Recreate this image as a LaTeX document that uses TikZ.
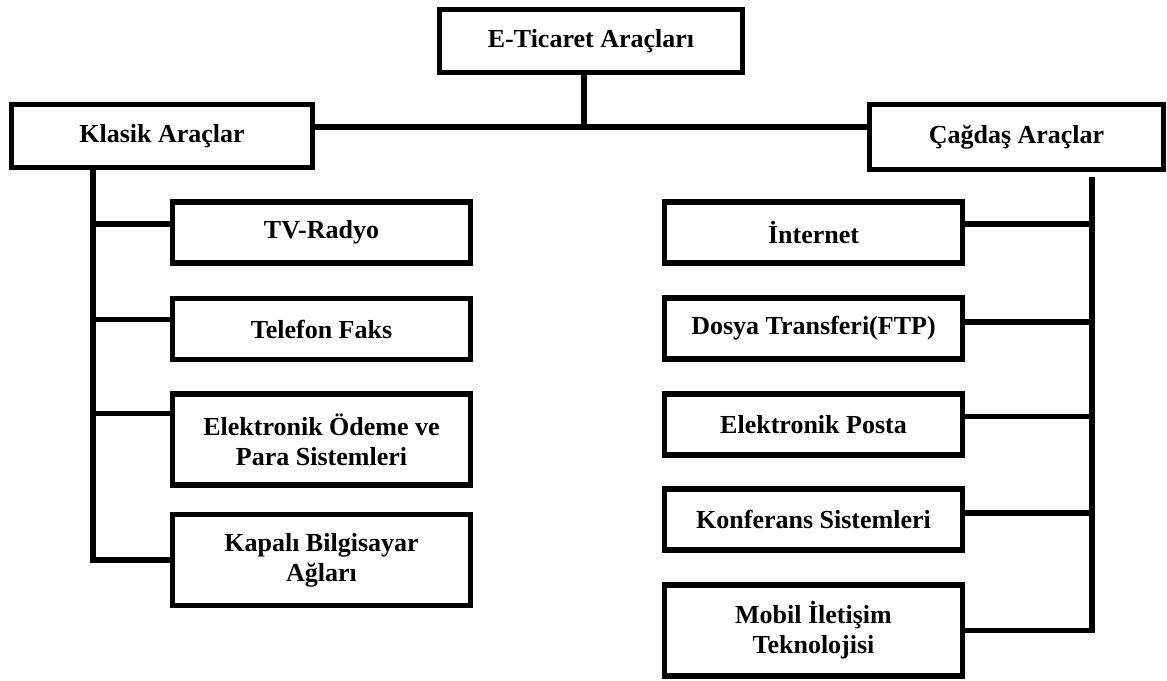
\documentclass[tikz,border=0pt]{standalone}
\usepackage{fontspec}
\setmainfont{Liberation Serif}
\usetikzlibrary{calc}
\begin{document}
\begin{tikzpicture}[x=0.75pt, y=-0.75pt, line width=4pt,
    main/.style = {draw, rectangle, inner sep=0pt, align=center, font=\fontsize{19.5}{22.5}\selectfont\bfseries, minimum width=223.5pt, minimum height=45.75pt},
    tall/.style = {main, minimum height=68.25pt}]
    \useasboundingbox (0,0) rectangle (1167,681);
    \node[main, minimum width=227.25pt, minimum height=47.25pt] (0) at (591,41) {E-Ticaret Araçları};
    \node[main, minimum width=225.75pt, minimum height=47.25pt] (1) at (162,136) {Klasik Araçlar};
    \node[main, minimum width=220.5pt, minimum height=48.75pt] (2) at (1016.5,137) {Çağdaş Araçlar};
    % klasik
    \node[main] (3) at (321.5,232.5) {TV-Radyo};
    \node[main] (4) at (321.5,329) {Telefon Faks};
    \node[tall] (5) at (321.5,439.5) {Elektronik Ödeme ve\\Para Sistemleri};
    \node[tall] (6) at (321.5,560) {Kapalı Bilgisayar\\Ağları};
    % çağdaş
    \node[main] (7) at (813.5,232.5) {İnternet};
    \node[main] (8) at (813.5,328.5) {Dosya Transferi(FTP)};
    \node[main] (9) at (813.5,424.5) {Elektronik Posta};
    \node[main] (10) at (813.5,519.5) {Konferans Sistemleri};
    \node[tall] (11) at (813.5,630.5) {Mobil İletişim\\Teknolojisi};
    \coordinate (hub) at (584,127);
    \coordinate (ls) at (93,170);
    \coordinate (rs) at (1092,177);
    \draw (hub |- 0.south) -- (hub);
    \draw (1.east |- hub) -- (2.west |- hub);
    \draw (1.south -| ls) |- (6.west);
    \foreach \n/\f in {3/0.37, 4/0.36, 5/0.23}
        \draw ($(\n.north west)!\f!(\n.south west)$) coordinate (p) -- (p -| ls);
    \draw (rs) |- (11.east);
    \foreach \n/\f in {7/0.37, 8/0.4, 9/0.38, 10/0.4}
        \draw ($(\n.north east)!\f!(\n.south east)$) coordinate (p) -- (p -| rs);
\end{tikzpicture}
\end{document}
